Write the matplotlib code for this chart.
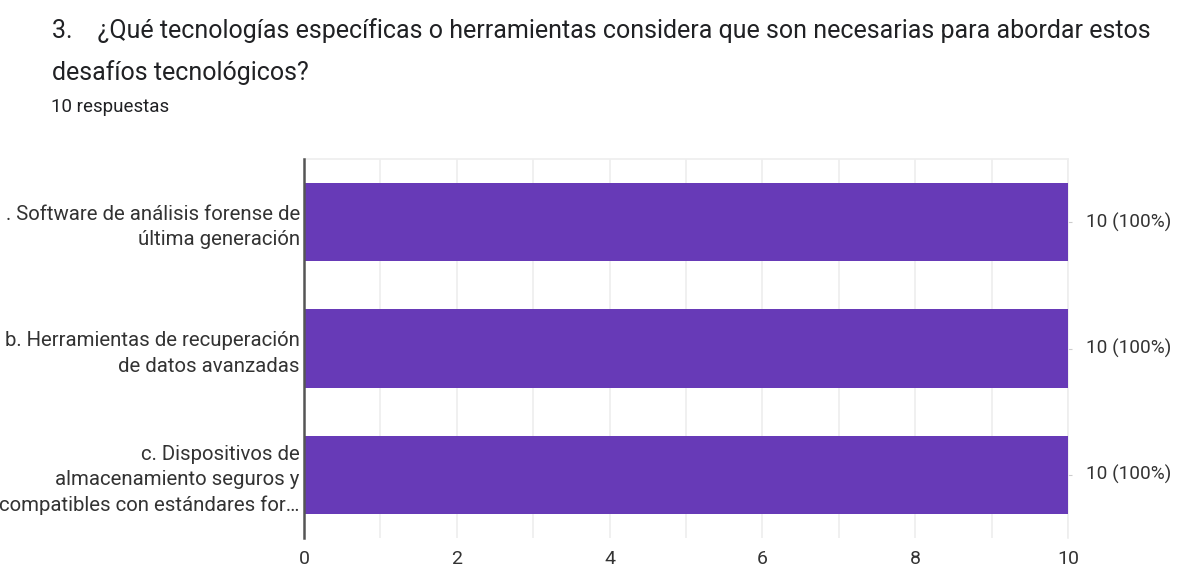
import matplotlib.pyplot as plt
from matplotlib.ticker import MultipleLocator

# Data
categories = [". Software de análisis forense de\núltima generación",
              "b. Herramientas de recuperación\nde datos avanzadas",
              "c. Dispositivos de\nalmacenamiento seguros y\ncompatibles con estándares for…"]
counts = [10, 10, 10]
percents = [100, 100, 100]
xticks = [0, 2, 4, 6, 8, 10]

plt.rcParams['font.family'] = ['Roboto', 'DejaVu Sans']
text_col = '#333333'

fig = plt.figure(figsize=(11.83, 5.69), dpi=100)
ax = fig.add_axes([304 / 1183, 31 / 569, 764 / 1183, 379 / 569])

ypos = list(range(len(categories)))
ax.barh(ypos, counts, height=0.62, color='#673AB7', zorder=3)

ax.set_ylim(len(categories) - 0.5, -0.5)
ax.set_xlim(0, 10)
ax.set_yticks(ypos)
ax.set_yticklabels(categories, fontsize=14.7, color=text_col, linespacing=1.42)
ax.set_xticks(xticks)
ax.set_xticklabels([str(t) for t in xticks], fontsize=14, color=text_col)
ax.xaxis.set_minor_locator(MultipleLocator(1))
ax.grid(axis='x', which='both', color='#eeeeee', linewidth=1.2, zorder=0)
ax.tick_params(axis='x', which='both', length=0, pad=9)
ax.tick_params(axis='y', left=False, right=True, length=3, color='#cccccc', pad=0)

for s in ['top', 'right', 'bottom']:
    ax.spines[s].set_color('#eeeeee')
    ax.spines[s].set_linewidth(1.2)
ax.spines['bottom'].set_visible(False)
ax.spines['left'].set_color('#555555')
ax.spines['left'].set_linewidth(1.8)
ax.spines['left'].set_zorder(4)

for y, c, p in zip(ypos, counts, percents):
    ax.annotate(f"{c} ({p}%)", xy=(10, y), xytext=(13, 0), textcoords='offset points',
                ha='left', va='center', fontsize=13.7, color=text_col, annotation_clip=False)

fig.text(52 / 1183, 1 - 31 / 569, "3.    ¿Qué tecnologías específicas o herramientas considera que son necesarias para abordar estos",
         fontsize=18, color='#202124', va='center', ha='left')
fig.text(52 / 1183, 1 - 73 / 569, "desafíos tecnológicos?",
         fontsize=18, color='#202124', va='center', ha='left')
fig.text(51 / 1183, 1 - 107 / 569, "10 respuestas",
         fontsize=13.5, color='#202124', va='center', ha='left')

fig.savefig("out.png", dpi=100, facecolor='white')
